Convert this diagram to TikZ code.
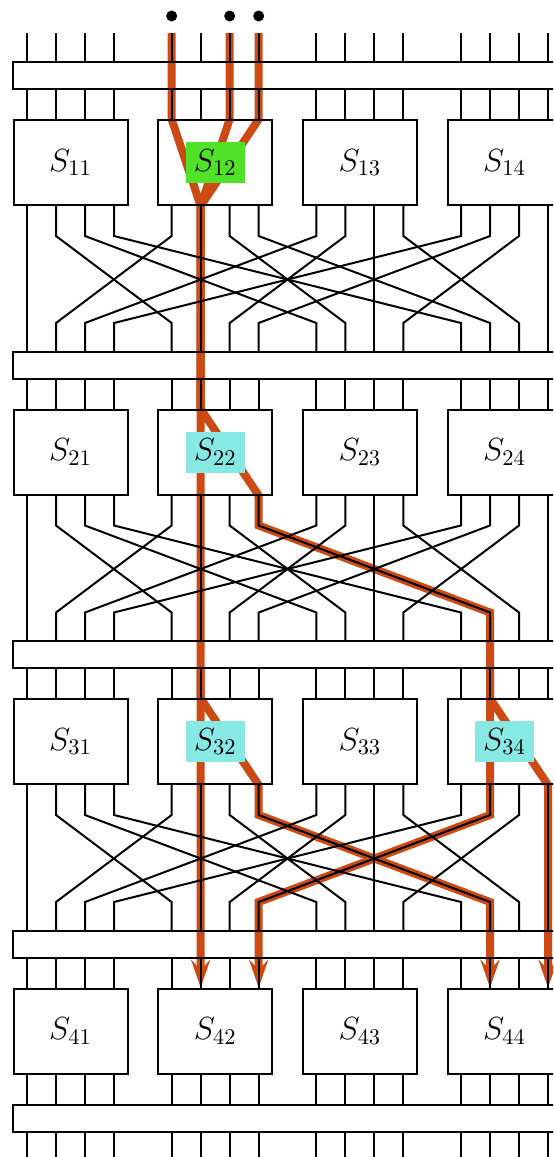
\RequirePackage{fix-cm}
\documentclass[tikz,border=0pt]{standalone}
\usetikzlibrary{arrows.meta,calc}
\pgfdeclarelayer{bg}
\pgfsetlayers{bg,main}
\definecolor{hl}{RGB}{204,74,20}
\definecolor{lgreen}{RGB}{80,226,40}
\definecolor{lcyan}{RGB}{136,232,228}
\begin{document}
\begin{tikzpicture}[x=0.5pt,y=-0.5pt,
  wire/.style={line width=1pt},
  sbox/.style={draw,line width=1pt,minimum width=57pt,minimum height=42.35pt,inner sep=0pt},
  busbar/.style={draw,line width=1pt,minimum width=293.35pt,minimum height=13.5pt,inner sep=0pt},
  lab/.style={inner sep=0pt,minimum width=29.5pt,minimum height=20.5pt,font=\fontsize{16}{19}\selectfont},
  hlg/.style={lab,fill=lgreen},
  hlc/.style={lab,fill=lcyan},
  hlp/.style={draw=hl,line width=4pt},
  tip/.style={-{Stealth[length=14pt,width=9.5pt,inset=5pt]}},
  dot/.style={circle,fill=black,inner sep=0pt,minimum size=5.5pt},
]
\useasboundingbox (0,0) rectangle (553,1157);
\clip (0,0) rectangle (553,1157);
% boxes
\foreach \r in {1,...,4}{
  \foreach \c in {1,...,4}{
    \node[sbox] (B\r\c) at ({70.5+144.67*(\c-1)},{162.65+289.5*(\r-1)}) {};
  }
}
% bars
\foreach \k in {0,...,3}{
  \node[busbar] (R\k) at (306.65,{75.8+289.5*\k}) {};
}
\node[busbar] (R4) at (306.65,1118) {};
% labels
\foreach \r in {1,...,4}{
  \foreach \c in {1,...,4}{
    \pgfmathtruncatemacro{\hit}{(\r==1 && \c==2) ? 1 : ((\r==2 && \c==2) || (\r==3 && \c==2) || (\r==3 && \c==4) ? 2 : 0)}
    \ifnum\hit=1
      \node[hlg] (L\r\c) at (B\r\c) {$S_{\r\c}$};
    \else\ifnum\hit=2
      \node[hlc] (L\r\c) at (B\r\c) {$S_{\r\c}$};
    \else
      \node[lab] (L\r\c) at (B\r\c) {$S_{\r\c}$};
    \fi\fi
  }
}
% input dots
\node[dot] (d4) at (171.67,16) {};
\node[dot] (d6) at (229.67,16) {};
\node[dot] (d7) at (258.67,16) {};
% wires
\foreach \g in {0,...,3}{
  \foreach \j in {0,...,3}{
    \pgfmathsetmacro{\x}{27+29*\j+144.67*\g}
    \pgfmathsetmacro{\xt}{27+29*\g+144.67*\j}
    \pgfmathsetmacro{\dx}{\xt-\x}
    \pgfmathtruncatemacro{\c}{\g+1}
    \draw[wire] (\x,33) -- (\x,0 |- R0.north);
    \foreach \r in {1,...,4}{
      \pgfmathtruncatemacro{\p}{\r-1}
      \draw[wire] (\x,0 |- R\p.south) -- (\x,0 |- B\r\c.north);
    }
    \foreach \r in {1,2,3}{
      \draw[wire] (\x,0 |- B\r\c.south) -- ++(0,30) -- ++(\dx,87) -- (\xt,0 |- R\r.north);
    }
    \draw[wire] (\x,0 |- B4\c.south) -- (\x,0 |- R4.north);
    \draw[wire] (\x,0 |- R4.south) -- (\x,1160);
  }
}
% highlighted routes
\begin{pgfonlayer}{bg}
\begin{scope}
\clip (0,0) rectangle (553,1157);
\draw[hlp,tip] (171.67,33) -- (171.67,0 |- B12.north) -- (200.67,0 |- B12.south) -- (200.67,0 |- B42.north);
\draw[hlp] (229.67,33) -- (229.67,0 |- B12.north) -- (200.67,0 |- B12.south) -- (200.67,0 |- B22.north);
\draw[hlp] (258.67,33) -- (258.67,0 |- B12.north) -- (200.67,0 |- B12.south) -- (200.67,0 |- B22.north);
\draw[hlp,tip] (200.67,0 |- R1.south) -- (200.67,0 |- B22.north) -- (258.67,0 |- B22.south) -- ++(0,30) -- ++(231.34,87) -- (490,0 |- B34.north) -- (490,0 |- B34.south) -- ++(0,30) -- ++(-231.34,87) -- (258.67,0 |- B42.north);
\draw[hlp,tip] (200.67,0 |- R2.south) -- (200.67,0 |- B32.north) -- (258.67,0 |- B32.south) -- ++(0,30) -- ++(231.34,87) -- (490,0 |- B44.north);
\draw[hlp,tip] (490,0 |- R2.south) -- (490,0 |- B34.north) -- (548,0 |- B34.south) -- (548,0 |- B44.north);
\end{scope}
\end{pgfonlayer}
\end{tikzpicture}
\end{document}
